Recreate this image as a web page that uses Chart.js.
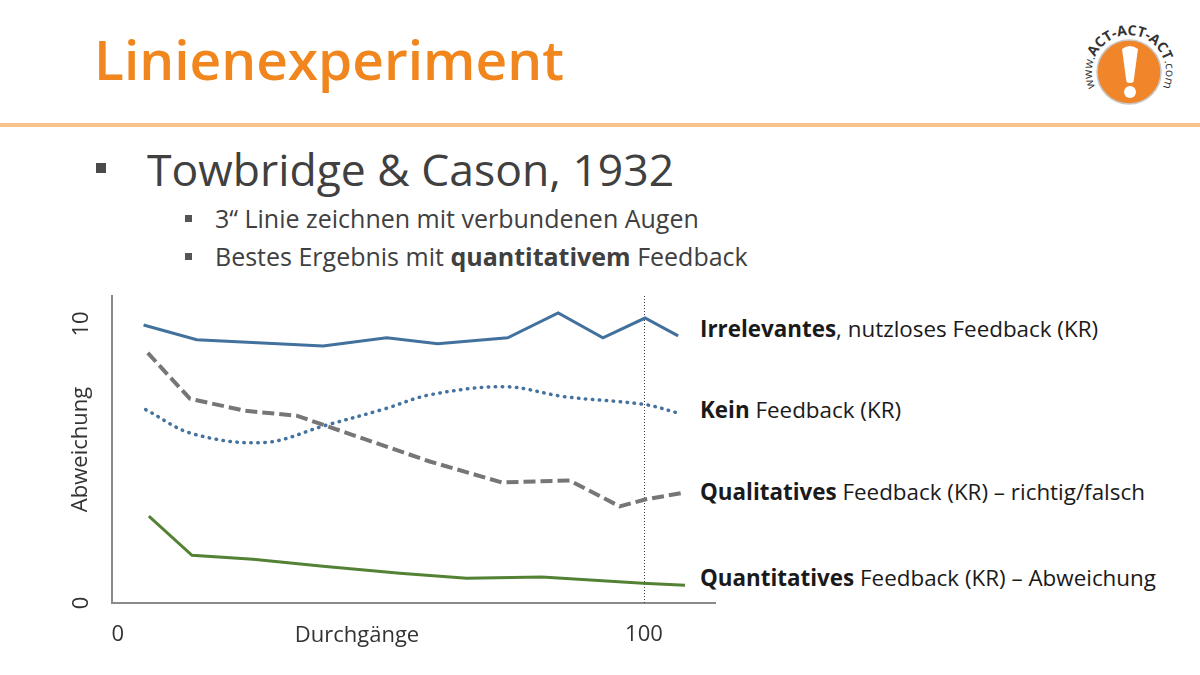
<!DOCTYPE html>
<html>
<head>
<meta charset="utf-8">
<script src="https://cdn.jsdelivr.net/npm/chart.js@4/dist/chart.umd.min.js"></script>
<style>
  html, body { margin:0; padding:0; background:#fff; }
  body { width:1200px; height:675px; position:relative; overflow:hidden; font-family:"Open Sans", sans-serif; color:#404040; }
  .title { position:absolute; left:94px; top:31px; font-size:55px; font-weight:600; color:#F0861D; line-height:1; white-space:nowrap; }
  .rule { position:absolute; left:0; top:123px; width:1200px; height:4px; background:#FAC28C; }
  .b1 { position:absolute; left:147px; top:142px; font-size:44.5px; font-weight:400; line-height:54px; white-space:nowrap; color:#404040; }
  .sq1 { position:absolute; left:96px; top:163px; width:10px; height:10px; background:#4a4a4a; }
  .b2 { position:absolute; left:215px; font-size:25px; font-weight:400; line-height:32px; white-space:nowrap; color:#404040; }
  .sq2 { position:absolute; left:185px; width:7px; height:7px; background:#555; }
  .lab { position:absolute; left:700px; font-size:22.4px; line-height:28px; white-space:nowrap; color:#1a1a1a; }
  #wrap { position:absolute; left:0; top:270px; width:760px; height:400px; }
</style>
</head>
<body>
<div class="title">Linienexperiment</div>
<div class="rule"></div>

<svg style="position:absolute;left:1050px;top:0" width="150" height="122" viewBox="1050 0 150 122">
  <defs>
    <path id="arc" d="M1094.2,84.7 A37,37 0 1 1 1163.8,84.7"></path>
  </defs>
  <circle cx="1129" cy="72" r="32" fill="#F0852A" stroke="#c9c9c9" stroke-width="1.5"></circle>
  <path d="M1122,49 Q1130,43 1138,49 L1133.5,82 Q1130,84 1126.5,82 Z" fill="#fff"></path>
  <circle cx="1130" cy="92" r="6" fill="#fff"></circle>
  <text fill="#333" font-family="Open Sans" text-anchor="middle">
    <textPath href="#arc" startOffset="50%"><tspan font-size="12">www.</tspan><tspan font-size="14" font-weight="bold">ACT-ACT-ACT</tspan><tspan font-size="12">.com</tspan></textPath>
  </text>
</svg>

<div class="sq1"></div>
<div class="b1">Towbridge &amp; Cason, 1932</div>
<div class="sq2" style="top:215px"></div>
<div class="b2" style="top:202px">3“ Linie zeichnen mit verbundenen Augen</div>
<div class="sq2" style="top:253px"></div>
<div class="b2" style="top:240px">Bestes Ergebnis mit <b style="font-weight:700">quantitativem</b> Feedback</div>

<div class="lab" style="top:315px"><b>Irrelevantes</b>, nutzloses Feedback (KR)</div>
<div class="lab" style="top:396px"><b>Kein</b> Feedback (KR)</div>
<div class="lab" style="top:478px"><b>Qualitatives</b> Feedback (KR) – richtig/falsch</div>
<div class="lab" style="top:564px"><b>Quantitatives</b> Feedback (KR) – Abweichung</div>

<div id="wrap"><canvas id="c"></canvas></div>

<script>
// ---- data ----
const xTickValues = [0, 100];
const yTickValues = [0, 10];
const markerX = 100;               // dotted reference line
const xAxisTitle = "Durchgänge";
const yAxisTitle = "Abweichung";

const irrelevantX = [4.9, 15.0, 39.0, 51.1, 60.8, 74.1, 83.7, 92.2, 100.2, 106.5];
const irrelevantY = [9.96, 9.43, 9.21, 9.50, 9.29, 9.50, 10.39, 9.50, 10.21, 9.57];

const keinX = [5.3, 14.1, 27.9, 39.4, 50.8, 59.3, 73.6, 85.0, 100.2, 106.8];
const keinY = [6.93, 6.07, 5.75, 6.36, 6.96, 7.46, 7.75, 7.39, 7.11, 6.79];

const qualX = [5.7, 13.7, 24.1, 34.0, 59.3, 73.0, 85.9, 95.4, 100.2, 107.8];
const qualY = [8.96, 7.32, 6.89, 6.71, 5.07, 4.32, 4.39, 3.46, 3.71, 3.96];

const quantX = [5.9, 14.1, 25.7, 39.0, 53.6, 66.3, 80.6, 99.8, 107.8];
const quantY = [3.11, 1.71, 1.57, 1.32, 1.07, 0.89, 0.93, 0.71, 0.64];

const pts = (xs, ys) => xs.map((x, i) => ({ x: x, y: ys[i] }));

const extrasPlugin = {
  id: 'extras',
  beforeDatasetsDraw(chart) {
    const ctx = chart.ctx, a = chart.chartArea;
    const px = Math.round(chart.scales.x.getPixelForValue(markerX)) + 0.5;
    ctx.save();
    ctx.strokeStyle = '#3a3a3a';
    ctx.lineWidth = 1;
    ctx.setLineDash([1, 2]);
    ctx.beginPath();
    ctx.moveTo(px, a.top);
    ctx.lineTo(px, a.bottom);
    ctx.stroke();
    ctx.restore();
  },
  afterDraw(chart) {
    const ctx = chart.ctx, a = chart.chartArea;
    ctx.save();
    ctx.font = '22px "Open Sans"';
    ctx.fillStyle = '#333';
    ctx.textAlign = 'center';
    ctx.textBaseline = 'middle';
    ctx.fillText(xAxisTitle, a.left + 245, a.bottom + 33);
    ctx.restore();
  }
};

new Chart(document.getElementById('c'), {
  type: 'line',
  data: {
    datasets: [
      { data: pts(irrelevantX, irrelevantY), borderColor: '#41719C', borderWidth: 3, pointRadius: 0, tension: 0 },
      { data: pts(keinX, keinY), borderColor: '#44729E', borderWidth: 3.5, borderDash: [0.5, 6.5], borderCapStyle: 'round', pointRadius: 0, tension: 0.35 },
      { data: pts(qualX, qualY), borderColor: '#767676', borderWidth: 4, borderDash: [12, 5], pointRadius: 0, tension: 0 },
      { data: pts(quantX, quantY), borderColor: '#548235', borderWidth: 3, pointRadius: 0, tension: 0 }
    ]
  },
  options: {
    responsive: true,
    maintainAspectRatio: false,
    animation: false,
    layout: { padding: { top: 26, left: 52, right: 45, bottom: 21 } },
    plugins: { legend: { display: false }, tooltip: { enabled: false } },
    scales: {
      x: {
        type: 'linear', min: -1.1, max: 113.5,
        afterBuildTicks: s => { s.ticks = xTickValues.map(v => ({ value: v })); },
        afterFit: s => { s.height = 46; s.paddingLeft = 0; s.paddingRight = 0; },
        ticks: { color: '#333', font: { family: 'Open Sans', size: 22 }, padding: 19, maxRotation: 0, minRotation: 0 },
        grid: { display: false, drawTicks: false },
        border: { display: true, color: '#8A8A8A', width: 2 }
      },
      y: {
        type: 'linear', min: 0, max: 11,
        afterBuildTicks: s => { s.ticks = yTickValues.map(v => ({ value: v })); },
        afterFit: s => { s.width = 60; s.paddingTop = 0; s.paddingBottom = 0; },
        ticks: { color: '#333', font: { family: 'Open Sans', size: 22 }, padding: 18, minRotation: 90, maxRotation: 90, crossAlign: 'center' },
        grid: { display: false, drawTicks: false },
        border: { display: true, color: '#8A8A8A', width: 2 },
        title: { display: true, text: yAxisTitle, color: '#333', font: { family: 'Open Sans', size: 22 }, padding: { top: 16, bottom: 0 } }
      }
    }
  },
  plugins: [extrasPlugin]
});
</script>
</body>
</html>
